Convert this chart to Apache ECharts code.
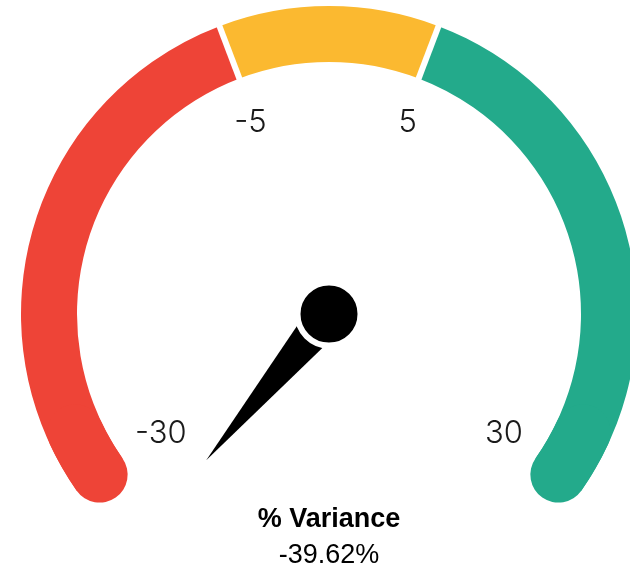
<!DOCTYPE html>
<html>
<head>
<meta charset="utf-8">
<script src="https://cdn.jsdelivr.net/npm/echarts@6/dist/echarts.min.js"></script>
<style>
  html, body { margin: 0; padding: 0; background: #fff; }
  #main { width: 630px; height: 573px; }
</style>
</head>
<body>
<div id="main"></div>
<script>
// gauge data
var gaugeMin = -30;
var gaugeMax = 30;
var bandStops = [-5, 5, 30];           // upper bound of each colour band
var bandColors = ['#ee4437', '#fbb930', '#23aa8b'];
var tickLabels = [-30, -5, 5, 30];
var metricName = '% Variance';
var metricValue = [-39.62];

var C = [329, 314];
var R = 308;
var W = 56;
var startA = 215, endA = -35;

function angleOf(v) {
  return startA - (v - gaugeMin) / (gaugeMax - gaugeMin) * (startA - endA);
}

var colorStops = bandStops.map(function (b, i) {
  return [(b - gaugeMin) / (gaugeMax - gaugeMin), bandColors[i]];
});

var labelFont = {
  color: '#1a1a1a',
  fontSize: 31,
  fontFamily: 'Inter',
  fontWeight: 300
};

function hidden() {
  return {
    splitLine: { show: false, length: 0, distance: 0 },
    axisTick: { show: false },
    axisLabel: { show: false },
    pointer: { show: false },
    anchor: { show: false },
    title: { show: false },
    detail: { show: false }
  };
}

function gauge(opts) {
  return Object.assign({ type: 'gauge', center: C, radius: R, animation: false, silent: true }, hidden(), opts);
}

var chart = echarts.init(document.getElementById('main'));
chart.setOption({
  backgroundColor: '#fff',
  series: [
    // coloured band
    gauge({
      startAngle: startA, endAngle: endA, min: gaugeMin, max: gaugeMax,
      axisLine: { lineStyle: { width: W, color: colorStops } },
      data: []
    }),
    // round caps at both ends
    gauge({
      startAngle: startA, endAngle: startA - 10, min: 0, max: 1,
      axisLine: { roundCap: true, lineStyle: { width: W, color: [[1, bandColors[0]]] } },
      data: []
    }),
    gauge({
      startAngle: endA + 10, endAngle: endA, min: 0, max: 1,
      axisLine: { roundCap: true, lineStyle: { width: W, color: [[1, bandColors[2]]] } },
      data: []
    }),
    // white gaps + -5 / 5 labels
    gauge({
      startAngle: angleOf(tickLabels[1]), endAngle: angleOf(tickLabels[2]),
      min: tickLabels[1], max: tickLabels[2], splitNumber: 1,
      axisLine: { show: true, lineStyle: { width: W, color: [[1, 'rgba(0,0,0,0)']] } },
      splitLine: { show: true, length: 60, distance: -58, lineStyle: { color: '#fff', width: 6 } },
      axisLabel: Object.assign({ show: true, distance: 85 }, labelFont),
      data: []
    }),
    // -30 / 30 labels
    gauge({
      startAngle: 211.7, endAngle: -31.7,
      min: tickLabels[0], max: tickLabels[3], splitNumber: 1,
      axisLine: { show: false },
      axisLabel: Object.assign({ show: true, distance: 80 }, labelFont),
      data: []
    }),
    // needle (value is below min, so it rests past the -30 end)
    gauge({
      startAngle: 230, endAngle: -50, min: gaugeMin, max: gaugeMax,
      axisLine: { show: false },
      pointer: {
        show: true,
        icon: 'path://M5,0 L10,100 L0,100 Z',
        width: 40,
        length: 191,
        offsetCenter: [0, 0],
        itemStyle: { color: '#000' }
      },
      anchor: {
        show: true, showAbove: true, size: 63,
        itemStyle: { color: '#000', borderColor: '#fff', borderWidth: 6 }
      },
      title: {
        show: true, offsetCenter: [0, 206],
        color: '#000', fontSize: 27, fontWeight: 'bold', fontFamily: 'Liberation Sans'
      },
      detail: {
        show: true, offsetCenter: [0, 242],
        color: '#000', fontSize: 27, fontWeight: 'normal', fontFamily: 'Liberation Sans',
        formatter: function (v) { return v.toFixed(2) + '%'; }
      },
      data: [{ value: metricValue[0], name: metricName }]
    })
  ]
});
</script>
</body>
</html>
